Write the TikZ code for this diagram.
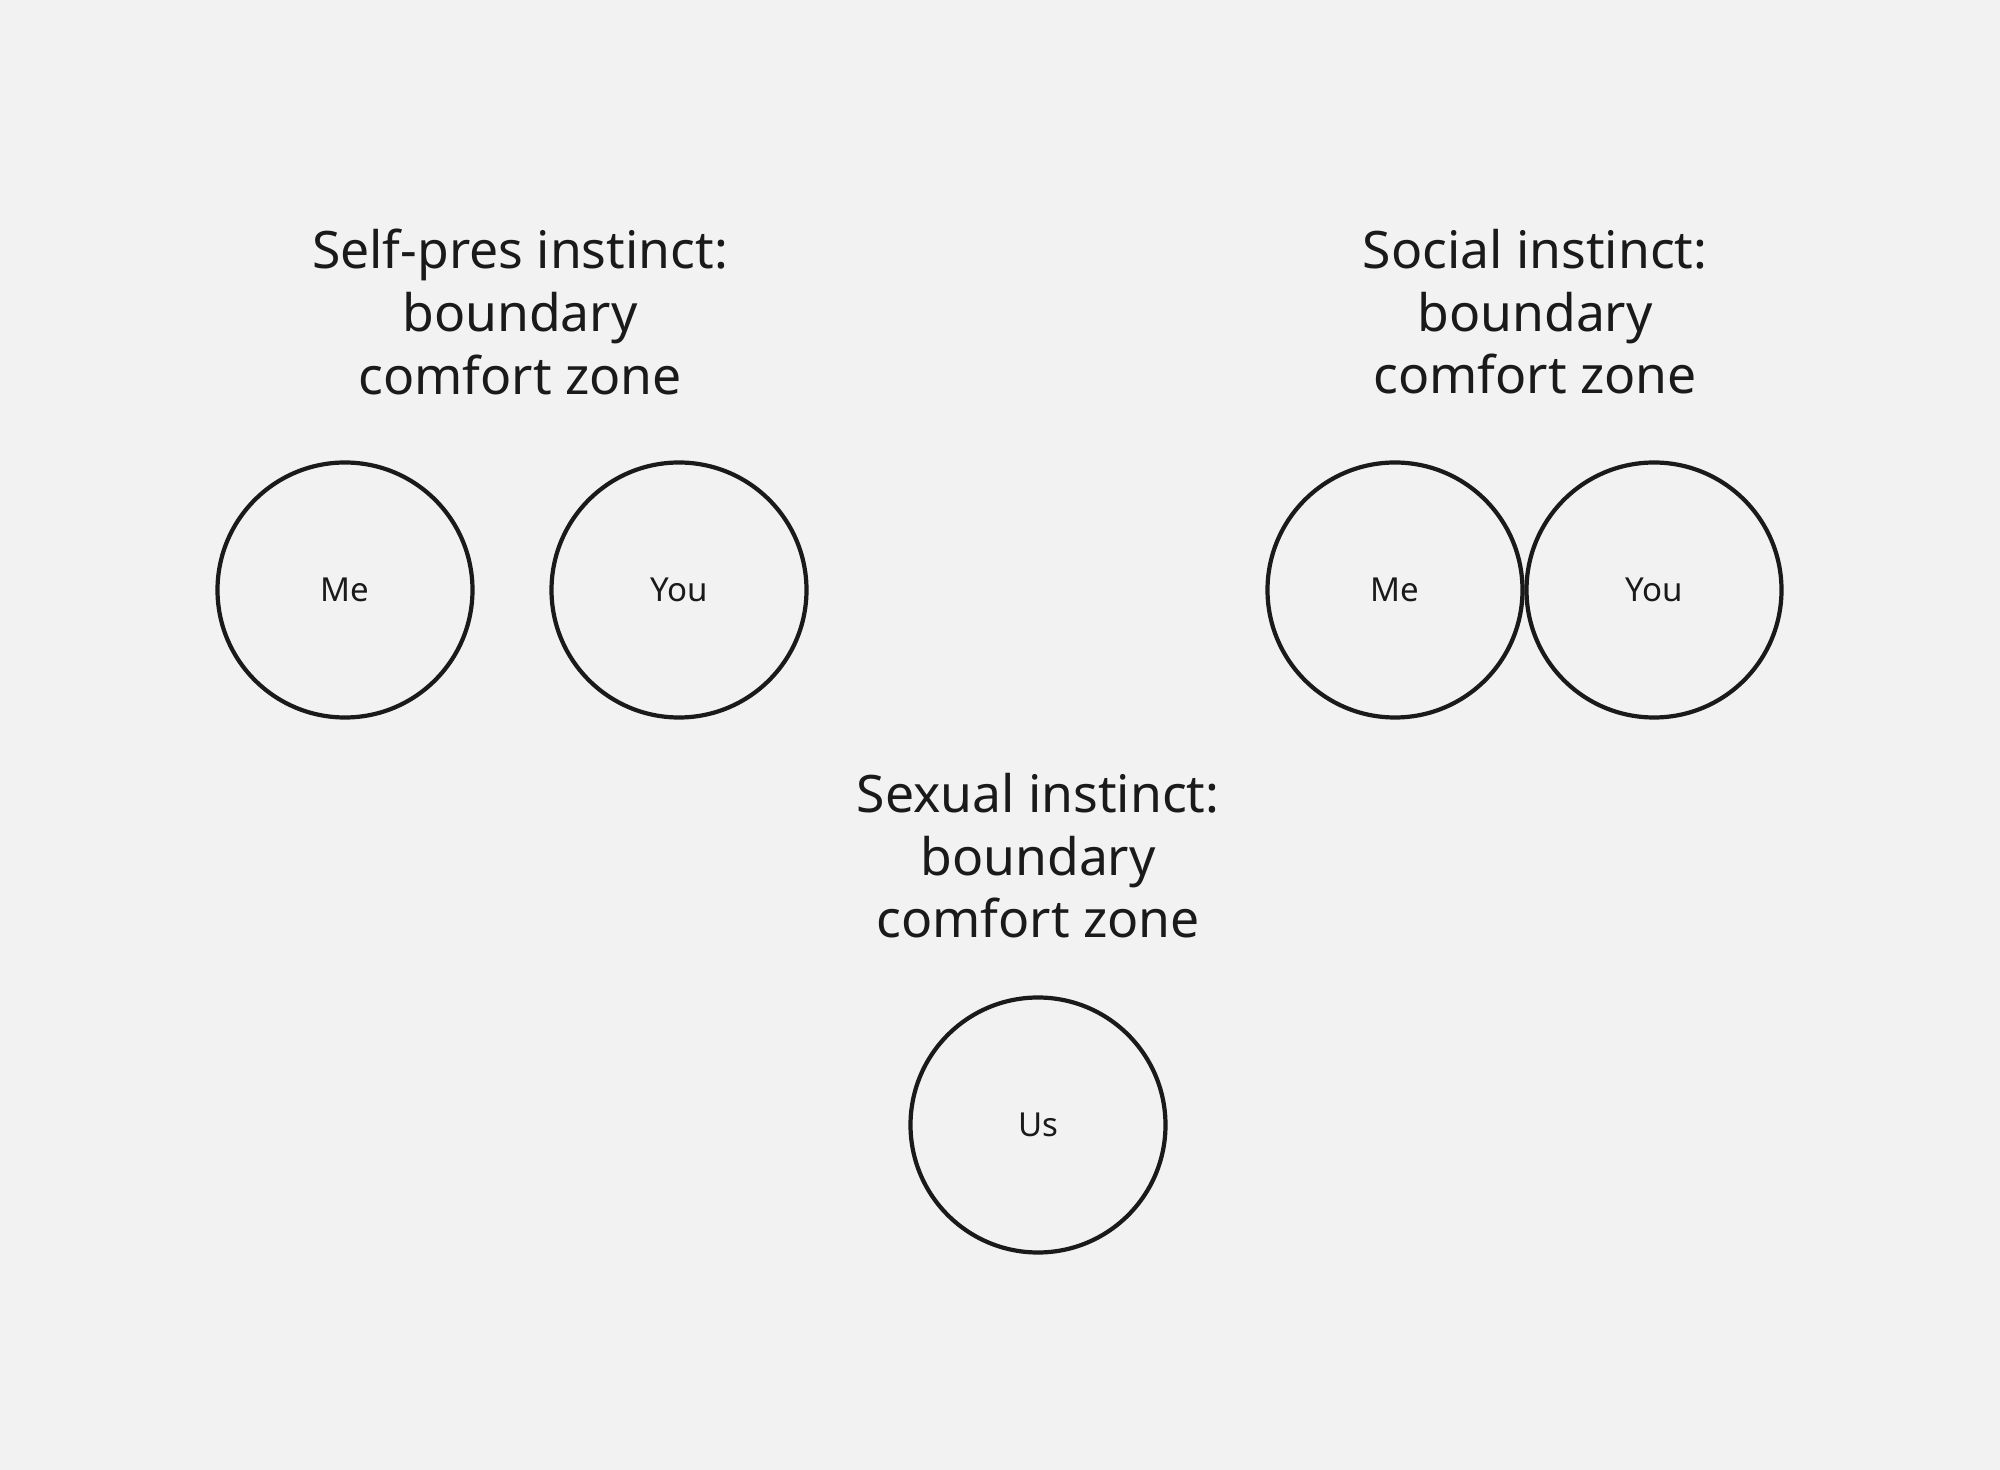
\documentclass[tikz,border=0pt]{standalone}
\usepackage{fontspec}
\setmainfont{Noto Sans}
\usepackage{tikz}
\usepackage{xcolor}
\definecolor{paper}{HTML}{F2F2F2}
\definecolor{ink}{HTML}{1A1A1A}
\tikzset{
  zone/.style={circle, draw=ink, line width=1.2pt, minimum size=2.55cm, inner sep=0pt,
    text=ink, font=\fontsize{9.4}{11}\selectfont},
  heading/.style={align=center, text=ink, font=\fontsize{14.7}{17.8}\selectfont}
}

\begin{document}
\begin{tikzpicture}
  \fill[paper] (0,0) rectangle (20,-14.7);
  \useasboundingbox (0,0) rectangle (20,-14.7);

  % self-preservation
  \node[heading] (selfT) at (5.20,-3.12) {Self-pres instinct:\\boundary\\comfort zone};
  \node[zone] (selfMe) at (3.45,-5.90) {Me};
  \node[zone] (selfYou) at (6.79,-5.90) {You};

  % social
  \node[heading] (socT) at (15.35,-3.12) {Social instinct:\\boundary\\comfort zone};
  \node[zone] (socMe) at (13.95,-5.90) {Me};
  \node[zone] (socYou) at (16.54,-5.90) {You};

  % sexual
  \node[heading] (sexT) at (10.38,-8.56) {Sexual instinct:\\boundary\\comfort zone};
  \node[zone] (sexUs) at (10.38,-11.25) {Us};
\end{tikzpicture}
\end{document}
